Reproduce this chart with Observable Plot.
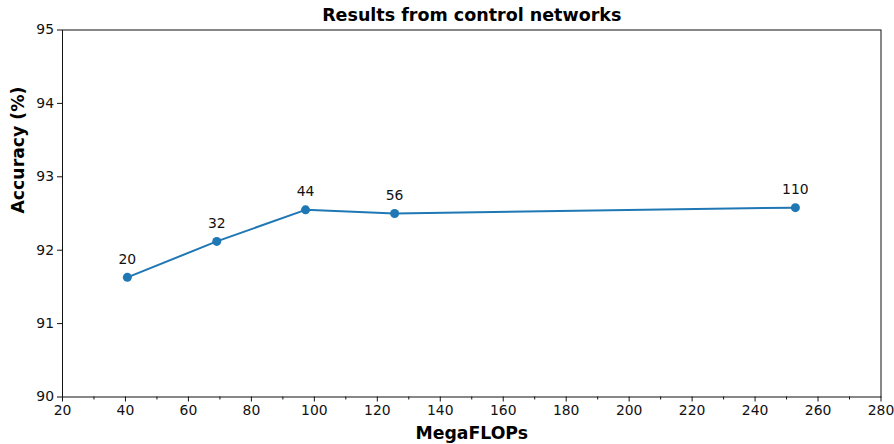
<!DOCTYPE html>
<html>
<head>
<meta charset="utf-8">
<script src="https://cdn.jsdelivr.net/npm/d3@7"></script>
<script src="https://cdn.jsdelivr.net/npm/@observablehq/plot@0.6"></script>
<style>
  html, body { margin: 0; padding: 0; background: #fff; }
  svg { font-family: "DejaVu Sans", sans-serif; }
</style>
</head>
<body>
<div id="chart"></div>
<script>
const megaflops = [40.6, 69.0, 97.2, 125.5, 252.8];
const accuracy = [91.63, 92.12, 92.55, 92.50, 92.58];
const depthLabels = ["20", "32", "44", "56", "110"];
const xTicks = [20, 40, 60, 80, 100, 120, 140, 160, 180, 200, 220, 240, 260, 280];
const xMinorTicks = [30, 50, 70, 90, 110, 130, 150, 170, 190, 210, 230, 250, 270];
const yTicks = [90, 91, 92, 93, 94, 95];
const title = "Results from control networks";
const xLabel = "MegaFLOPs";
const yLabel = "Accuracy (%)";

const data = megaflops.map((x, i) => ({x, y: accuracy[i], label: depthLabels[i]}));
const blue = "#1f77b4";

const plot = Plot.plot({
  width: 894,
  height: 444,
  marginLeft: 62,
  marginRight: 13.5,
  marginTop: 29.5,
  marginBottom: 47.5,
  style: {fontFamily: "DejaVu Sans, sans-serif", background: "#fff"},
  x: {domain: [20, 280]},
  y: {domain: [90, 95]},
  marks: [
    Plot.axisX({ticks: xTicks, tickSize: 5, tickPadding: 3.5, label: null, fontSize: 13.9, color: "#111", tickFormat: d => String(d)}),
    Plot.axisX({ticks: xMinorTicks, tickSize: 3, label: null, tickFormat: () => "", color: "#111"}),
    Plot.axisY({ticks: yTicks, tickSize: 5, tickPadding: 3.5, label: null, fontSize: 13.9, color: "#111", tickFormat: d => String(d)}),
    Plot.frame({stroke: "#111", strokeWidth: 1}),
    Plot.line(data, {x: "x", y: "y", stroke: blue, strokeWidth: 2}),
    Plot.dot(data, {x: "x", y: "y", r: 4.5, fill: blue, stroke: "none"}),
    Plot.text(data, {x: "x", y: "y", text: "label", dy: -18, fontSize: 13.9, fill: "#111"}),
    Plot.text([title], {frameAnchor: "top", lineAnchor: "middle", dy: -14.5, fontSize: 17.5, fontWeight: "bold", fill: "#000"}),
    Plot.text([xLabel], {frameAnchor: "bottom", lineAnchor: "middle", dy: 36.5, fontSize: 17.3, fontWeight: "bold", fill: "#000"}),
    Plot.text([yLabel], {frameAnchor: "left", dx: -44, rotate: -90, fontSize: 17.3, fontWeight: "bold", fill: "#000"})
  ]
});
document.getElementById("chart").appendChild(plot);
</script>
</body>
</html>
